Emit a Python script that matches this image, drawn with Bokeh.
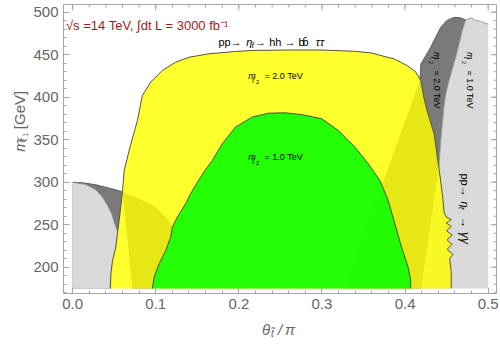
import math
from bokeh.plotting import figure
from bokeh.layouts import row, column
from bokeh.core.properties import value
from bokeh.models import Range1d, LinearAxis, Label, SingleIntervalTicker, PrintfTickFormatter
from bokeh.embed import file_html
from bokeh.resources import INLINE

# ---------------- data ----------------
theta_ticks = [0.0, 0.1, 0.2, 0.3, 0.4, 0.5]          # theta/pi, labelled ticks
mass_ticks = [200, 250, 300, 350, 400, 450, 500]      # GeV, labelled ticks
minor_per_major = 5

# pp -> eta_t -> hh -> bb tautau, m_t2 = 2.0 TeV (yellow) : boundary (theta/pi, m_t1)
hh_2tev = [(0.0452, 175), (0.046, 192), (0.048, 208), (0.052, 224), (0.054, 241), (0.056, 255),
           (0.058, 272), (0.06, 289), (0.062, 314), (0.0695, 343), (0.0779, 372.5), (0.0839, 402),
           (0.0939, 417.7), (0.1079, 431.4), (0.1239, 441.2), (0.1399, 447), (0.1639, 451),
           (0.1958, 453.8), (0.2158, 455), (0.26, 455.5), (0.30, 455.5), (0.34, 454), (0.36, 452),
           (0.371, 449), (0.387, 445), (0.403, 437), (0.413, 429.4), (0.4189, 419.6), (0.4225, 400),
           (0.4265, 384), (0.4349, 357), (0.4405, 318), (0.443, 300), (0.4455, 280), (0.447, 264),
           (0.4496, 259), (0.4556, 256), (0.4496, 252), (0.4556, 248), (0.4496, 243), (0.4566, 238),
           (0.4506, 232), (0.4566, 227), (0.4506, 221), (0.4576, 215), (0.4536, 210), (0.4555, 195),
           (0.4555, 175)]

# pp -> eta_t -> hh, m_t2 = 1.0 TeV (green)
hh_1tev = [(0.0959, 175), (0.098, 188.3), (0.104, 204), (0.112, 219.6), (0.1179, 235.3), (0.1199, 247),
           (0.1259, 258.8), (0.1359, 274.6), (0.1419, 286.4), (0.152, 303), (0.16, 315), (0.1679, 325.3),
           (0.1799, 345), (0.1958, 364.7), (0.2158, 376.5), (0.2358, 381.2), (0.2558, 381.6),
           (0.2758, 379.5), (0.2998, 374.6), (0.3197, 360.8), (0.3397, 341.2), (0.3557, 321.6),
           (0.3697, 302), (0.3797, 278.5), (0.3877, 251), (0.3957, 223.5), (0.4037, 200),
           (0.4065, 186), (0.4069, 175)]

# pp -> eta_t -> gamma gamma, m_t2 = 2.0 TeV (dark grey), left part
aa_2tev_left = [(0, 175), (0, 300), (0.012, 299.3), (0.028, 297), (0.04, 294), (0.052, 291),
                (0.06, 288.6), (0.08, 280.5), (0.1, 270.6), (0.112, 258.8), (0.12, 249), (0.124, 245),
                (0.121, 235), (0.114, 219.6), (0.106, 204), (0.1, 188), (0.098, 175), (0.072, 175),
                (0.06, 288.6), (0.058, 272), (0.056, 255), (0.0545, 241), (0.0535, 224),
                (0.0495, 208), (0.0475, 192), (0.0467, 175)]
aa_2tev_left_edge = 7

# gamma gamma, m_t2 = 1.0 TeV (light grey), left part
aa_1tev_left = [(0, 175), (0, 300), (0.016, 297.3), (0.028, 291), (0.036, 282.4), (0.042, 272.6),
                (0.047, 262.8), (0.05, 253), (0.0528, 245.2), (0.0545, 241), (0.0535, 224),
                (0.0495, 208), (0.0475, 192), (0.0467, 175)]
aa_1tev_left_edge = 10

# gamma gamma, m_t2 = 2.0 TeV (dark grey), right part
aa_2tev_right = [(0.4178, 419.6), (0.419, 439), (0.425, 449), (0.431, 459), (0.437, 471), (0.443, 482.4),
                 (0.45, 490), (0.459, 494), (0.466, 493.5), (0.4729, 491), (0.4689, 478.5),
                 (0.4609, 447), (0.4529, 419.6), (0.4469, 390), (0.443, 350), (0.4408, 318),
                 (0.4197, 175), (0.327, 175)]
aa_2tev_right_edge = 10

# gamma gamma, m_t2 = 1.0 TeV (light grey), right part
aa_1tev_right = [(0.5, 175), (0.5, 486), (0.4969, 487), (0.4909, 489.4), (0.4849, 490.5),
                 (0.4789, 493.4), (0.4729, 491), (0.4689, 478.5), (0.4649, 462.8), (0.4609, 447),
                 (0.4569, 433.4), (0.4529, 419.6), (0.4489, 404), (0.4469, 390), (0.445, 370),
                 (0.443, 350), (0.4415, 330), (0.4408, 318), (0.4197, 175)]
aa_1tev_right_edge = 18


def xs(pts):
    return [q[0] for q in pts]


def ys(pts):
    return [q[1] for q in pts]


AX = "#a6a6a6"
LBL = "#666666"
FONT = "Liberation Sans"

# ---------------- layout geometry (picture pixels) ----------------
TOTAL_W, TOTAL_H = 500, 346
YT_W = 30                 # strip on the left holding the y title
XT_H = 26                 # strip at the bottom holding the x title
PW, PH = TOTAL_W - YT_W, TOTAL_H - XT_H
FL, FR, FT, FB = 31, 4, 4, 27     # frame borders inside the main plot
X0, X1 = -0.011, 0.51
Y0, Y1 = 169.06, 509.06
PX_PER_X = (PW - FL - FR) / (X1 - X0)
PX_PER_Y = (PH - FT - FB) / (Y1 - Y0)

p = figure(width=PW, height=PH, output_backend="svg", toolbar_location=None,
           x_range=Range1d(X0, X1), y_range=Range1d(Y0, Y1),
           x_axis_location=None, y_axis_location=None,
           min_border_left=FL, min_border_right=FR, min_border_top=FT, min_border_bottom=FB)
p.xgrid.visible = False
p.ygrid.visible = False
p.outline_line_color = AX
p.outline_line_width = 1
p.background_fill_color = "white"
p.border_fill_color = "white"


def add_axis(loc, ticker, fmt=None):
    ax = LinearAxis(ticker=ticker)
    if fmt is not None:
        ax.formatter = fmt
    ax.axis_line_color = AX
    ax.major_tick_line_color = AX
    ax.minor_tick_line_color = AX
    ax.major_tick_in = 6
    ax.major_tick_out = 0
    ax.minor_tick_in = 3
    ax.minor_tick_out = 0
    ax.major_label_text_font = FONT
    ax.major_label_text_font_size = "15px"
    ax.major_label_text_color = LBL
    ax.major_label_standoff = 5
    p.add_layout(ax, loc)


x_step = theta_ticks[1] - theta_ticks[0]
y_step = mass_ticks[1] - mass_ticks[0]
xt = SingleIntervalTicker(interval=x_step, num_minor_ticks=minor_per_major)
yt = SingleIntervalTicker(interval=y_step, num_minor_ticks=minor_per_major)
add_axis("below", xt, PrintfTickFormatter(format="%.1f"))
add_axis("left", yt)

# mirrored ticks on the top and right frame edges
x_minor = [theta_ticks[0] + i * x_step / minor_per_major for i in range(-1, 27)]
x_minor = [v for v in x_minor if X0 < v < X1]
y_minor = [mass_ticks[0] + i * y_step / minor_per_major for i in range(-3, 31)]
y_minor = [v for v in y_minor if Y0 < v < Y1]
for vals, ln in ((theta_ticks, 6), (x_minor, 3)):
    p.segment(x0=vals, x1=vals, y0=[Y1] * len(vals), y1=[Y1 - ln / PX_PER_Y] * len(vals),
              line_color=AX, line_width=1)
for vals, ln in ((mass_ticks, 6), (y_minor, 3)):
    p.segment(x0=[X1] * len(vals), x1=[X1 - ln / PX_PER_X] * len(vals), y0=vals, y1=vals,
              line_color=AX, line_width=1)

LGRAY = "#d9d9d9"
DGRAY = "#7a7a7a"

for pts in (aa_2tev_left, aa_2tev_right):
    p.patch(xs(pts), ys(pts), fill_color=DGRAY, line_color=None)
for pts in (aa_1tev_left, aa_1tev_right):
    p.patch(xs(pts), ys(pts), fill_color=LGRAY, line_color=None)

p.line(xs(aa_2tev_left)[1:aa_2tev_left_edge], ys(aa_2tev_left)[1:aa_2tev_left_edge],
       line_color="#555555", line_width=0.9)
p.line(xs(aa_2tev_right)[:aa_2tev_right_edge], ys(aa_2tev_right)[:aa_2tev_right_edge],
       line_color="#555555", line_width=0.9)
p.line(xs(aa_1tev_left)[1:aa_1tev_left_edge], ys(aa_1tev_left)[1:aa_1tev_left_edge],
       line_color="#8c8c8c", line_width=0.8)
p.line(xs(aa_1tev_right)[1:aa_1tev_right_edge], ys(aa_1tev_right)[1:aa_1tev_right_edge],
       line_color="#8c8c8c", line_width=0.8)

p.patch(xs(hh_2tev), ys(hh_2tev), fill_color="#ffff00", fill_alpha=0.82, line_color=None)
p.patch(xs(hh_1tev), ys(hh_1tev), fill_color="#00ff00", fill_alpha=0.86, line_color=None)
p.line(xs(hh_2tev), ys(hh_2tev), line_color="#55553a", line_width=1.0)
p.line(xs(hh_1tev), ys(hh_1tev), line_color="#3d5530", line_width=1.0)


# ---------------- texts inside the frame ----------------
def put(text, px, py, size, color="black", italic=False, angle=0.0):
    """Text whose baseline start is at picture pixel (px, py)."""
    lx = px - YT_W
    p.add_layout(Label(x=X0 + (lx - FL) / PX_PER_X, y=Y1 - (py - FT) / PX_PER_Y, text=text,
                       text_font=FONT, text_font_size=f"{size}px", text_color=color,
                       text_font_style="italic" if italic else "normal", angle=angle,
                       text_align="left", text_baseline="alphabetic"))


RED = "#a31919"
put("\u221as =14 TeV, \u222bdt L = 3000 fb\u207b\u00b9", 63.5, 25, 13, color=RED)

put("pp\u2192", 216.7, 41.7, 11)
put("\u03b7", 244.5, 41.7, 11, italic=True)
put("t\u0303", 250, 44.5, 7.5, italic=True)
put("\u2192 hh \u2192 b", 253.5, 41.7, 11)
put("b\u0304", 301, 41.7, 11)
put("\u03c4\u03c4", 314.5, 41.7, 11, italic=True)

for val, base in (("2.0", 75.5), ("1.0", 156.5)):
    put("m", 246.5, base, 9, italic=True)
    put("t\u0303", 250.5, base + 4, 6.5, italic=True)
    put("2", 254.5, base + 6, 5.5)
    put(f"= {val} TeV", 263, base + 0.3, 9)

ROT = -math.pi / 2
for val, bx in (("2.0", 436.5), ("1.0", 469.5)):
    put("m", bx, 51.5, 9, italic=True, angle=ROT)
    put("t\u0303", bx - 4, 56.5, 6.5, italic=True, angle=ROT)
    put("2", bx - 6, 60.5, 5.5, angle=ROT)
    put(f"= {val} TeV", bx, 70, 9, angle=ROT)

put("pp\u2192", 464, 173, 11, angle=ROT)
put("\u03b7", 464, 201, 11, italic=True, angle=ROT)
put("t\u0303", 460.5, 206.5, 7.5, italic=True, angle=ROT)
put("\u2192", 464, 216.5, 11, angle=ROT)
put("\u03b3\u03b3", 464, 231.5, 12, italic=True, angle=ROT)


# ---------------- axis titles in thin strips ----------------
def strip(w, h):
    f = figure(width=w, height=h, output_backend="svg", toolbar_location=None,
               x_range=Range1d(0, w), y_range=Range1d(0, h),
               x_axis_location=None, y_axis_location=None,
               min_border_left=0, min_border_right=0, min_border_top=0, min_border_bottom=0)
    f.xgrid.visible = False
    f.ygrid.visible = False
    f.outline_line_color = None
    f.background_fill_color = "white"
    f.border_fill_color = "white"
    return f


def strip_text(f, h, ox, oy, text, px, py, size, italic=False, angle=0.0):
    f.text(x=[px - ox], y=[h - (py - oy)], text=[text], text_font=value(FONT),
           text_font_size=value(f"{size}px"), text_color=LBL,
           text_font_style="italic" if italic else "normal", angle=angle,
           text_align="left", text_baseline="alphabetic")


ytf = strip(YT_W, PH)
UP = math.pi / 2
strip_text(ytf, PH, 0, 0, "m", 19, 163, 15, italic=True, angle=UP)
strip_text(ytf, PH, 0, 0, "t\u0303", 22.5, 151.5, 10, italic=True, angle=UP)
strip_text(ytf, PH, 0, 0, "1", 24.5, 146.5, 7.5, angle=UP)
strip_text(ytf, PH, 0, 0, "[GeV]", 19, 138, 15, angle=UP)

xtf = strip(TOTAL_W, XT_H)
strip_text(xtf, XT_H, 0, PH, "\u03b8", 261.5, 328.5, 15, italic=True)
strip_text(xtf, XT_H, 0, PH, "t\u0303", 270.5, 333, 10, italic=True)
strip_text(xtf, XT_H, 0, PH, "/", 277.5, 328.5, 15, italic=True)
strip_text(xtf, XT_H, 0, PH, "\u03c0", 284.5, 328.5, 15, italic=True)

layout = column(row(ytf, p, spacing=0), xtf, spacing=0)
open("out.html", "w").write(file_html(layout, INLINE))
